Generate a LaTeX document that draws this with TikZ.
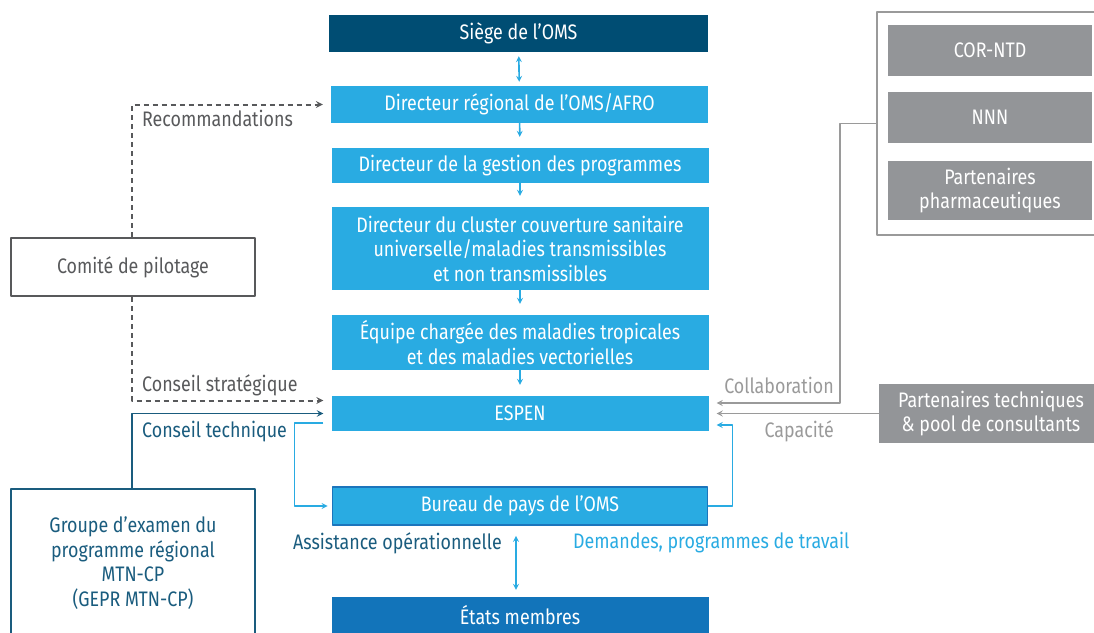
\documentclass[tikz,border=0pt]{standalone}
\usepackage{fontspec}
\setmainfont{Fira Sans}[FakeStretch=0.85]
\definecolor{omsdark}{HTML}{004D73}
\definecolor{omsblue}{HTML}{29ABE2}
\definecolor{etatsblue}{HTML}{1274BA}
\definecolor{bureauline}{HTML}{1C75BC}
\definecolor{partgray}{HTML}{939598}
\definecolor{linegray}{HTML}{9A9A9A}
\definecolor{comitegray}{HTML}{58595B}
\definecolor{gepr}{HTML}{1A5C7E}
\begin{document}
\begin{tikzpicture}[line join=round,font=\fontsize{21}{24.5}\selectfont,>=stealth, x=1pt, y=-1pt]
	\tikzset{main/.style={fill=omsblue, text=white, minimum width=377pt, minimum height=#1, align=center, inner sep=0pt},
		part/.style={fill=partgray, text=white, minimum width=204pt, minimum height=#1, align=center, inner sep=0pt},
		flow/.style={omsblue, line width=1.6pt},
		pilot/.style={comitegray, line width=2pt, dash pattern=on 5pt off 4pt},
		lab/.style={inner sep=1pt}}
	\useasboundingbox (0,0) rectangle (1094,632);
	% colonne centrale
	\node[main=37pt, fill=omsdark, minimum width=379pt] (siege) at (518.5,33.5) {Siège de l’OMS};
	\node[main=37pt] (dirreg) at (519.5,104.5) {Directeur régional de l’OMS/AFRO};
	\node[main=35pt] (gestion) at (520,165.5) {Directeur de la gestion des programmes};
	\node[main=83pt] (cluster) at (520,248.5) {Directeur du cluster couverture sanitaire\\universelle/maladies transmissibles\\et non transmissibles};
	\node[main=55pt] (equipe) at (520,342.5) {Équipe chargée des maladies tropicales\\et des maladies vectorielles};
	\node[main=35pt] (espen) at (520,413.5) {ESPEN};
	\node[main=38pt, draw=bureauline, line width=1.8pt, minimum width=375pt] (bureau) at (520,506) {Bureau de pays de l’OMS};
	\node[main=37pt, fill=etatsblue] (etats) at (520,615.5) {États membres};
	\draw[flow, <->, shorten <=4pt, shorten >=4pt] (siege) -- (dirreg);
	\draw[flow, ->, shorten >=11pt] (dirreg) -- (gestion);
	\draw[flow, ->, shorten >=11pt] (gestion) -- (cluster);
	\draw[flow, ->, shorten >=11pt] (cluster) -- (equipe);
	\draw[flow, ->, shorten >=11pt] (equipe) -- (espen);
	\draw[flow, <->, shorten <=10pt, shorten >=7pt] ([xshift=-4pt]bureau.south) -- ([xshift=-4pt]etats.north);
	% gauche
	\node[draw=comitegray, line width=2.2pt, text=comitegray, minimum width=244pt, minimum height=58pt] (comite) at (133,267) {Comité de pilotage};
	\node[draw=gepr, line width=2.2pt, text=gepr, minimum width=244pt, minimum height=148pt, align=center] (groupe) at (133,563) {Groupe d’examen du\\programme régional\\MTN-CP\\(GEPR MTN-CP)};
	\draw[pilot, ->, shorten >=8pt] ([xshift=-1pt]comite.north) |- (dirreg.west);
	\draw[pilot, ->, shorten >=8pt] ([xshift=-1pt]comite.south) |- ([yshift=13pt]espen.west);
	\draw[gepr, line width=1.8pt, ->, shorten >=8pt] ([xshift=-1pt]groupe.north) |- (espen.west);
	\node[lab, anchor=west, text=comitegray] (recom) at (141,118) {Recommandations};
	\node[lab, anchor=west, text=comitegray] (strat) at (141,385) {Conseil stratégique};
	\node[lab, anchor=west, text=gepr] (tech) at (141,432) {Conseil technique};
	\draw[flow, ->] ([xshift=-8pt,yshift=-9.5pt]espen.west) -- ++(-29,0) |- ([xshift=-4pt]bureau.west);
	\draw[flow, ->] (bureau.east) -- ++(24,0) |- ([xshift=8pt,yshift=-11.5pt]espen.east);
	\node[lab, anchor=east, text=gepr] (assist) at (503,543) {Assistance opérationnelle};
	\node[lab, anchor=west, text=omsblue] (demandes) at (572,543) {Demandes, programmes de travail};
	% droite
	\node[draw=linegray, line width=2pt, minimum width=230pt, minimum height=223pt] (cadre) at (992,123.5) {};
	\node[part=51pt] (cor) at (990,50.5) {COR-NTD};
	\node[part=51pt] (nnn) at (990,117.5) {NNN};
	\node[part=59pt] (pharma) at (990,190.5) {Partenaires\\pharmaceutiques};
	\node[part=59pt, minimum width=224pt] (ptech) at (991,413.5) {Partenaires techniques\\\& pool de consultants};
	\draw[linegray, line width=1.6pt, ->] (cadre.west) -- ++(-36,0) |- ([xshift=8pt,yshift=10.5pt]espen.east);
	\draw[linegray, line width=1.6pt, ->, shorten >=8pt] (ptech.west) -- (espen.east);
	\node[lab, anchor=east, text=linegray] (collab) at (835,385) {Collaboration};
	\node[lab, anchor=east, text=linegray] (capa) at (835,431) {Capacité};
\end{tikzpicture}
\end{document}
